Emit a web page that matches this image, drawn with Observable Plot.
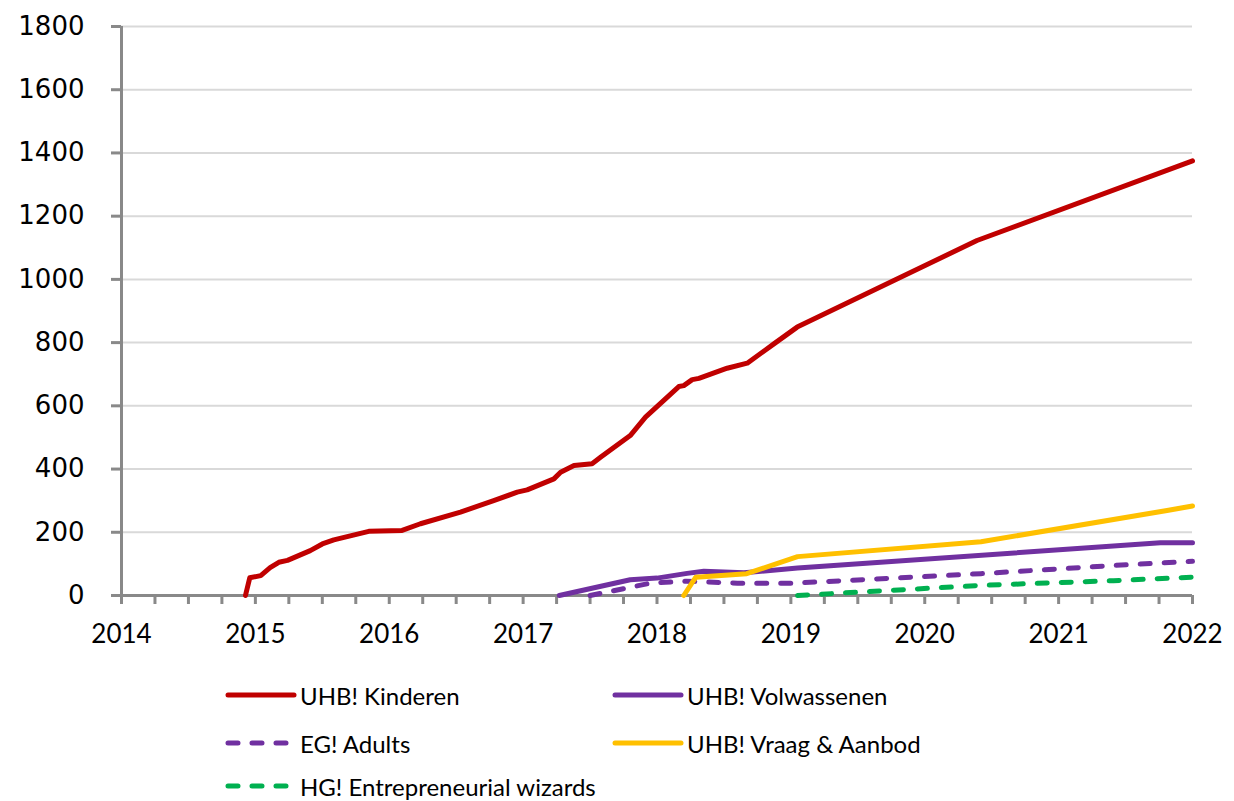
<!DOCTYPE html>
<html>
<head>
<meta charset="utf-8">
<script src="https://cdn.jsdelivr.net/npm/d3@7"></script>
<script src="https://cdn.jsdelivr.net/npm/@observablehq/plot@0.6"></script>
<style>
  html, body { margin: 0; padding: 0; background: #fff; width: 1234px; height: 801px; overflow: hidden; }
  #chart svg { display: block; }
  #legend { position: relative; width: 1234px; height: 141px; font-family: Lato, "Open Sans", sans-serif; font-size: 24px; color: #000; }
  .item { position: absolute; display: flex; align-items: center; height: 30px; white-space: nowrap; }
  .item svg { margin-right: 3px; }
</style>
</head>
<body>
<div id="chart"></div>
<div id="legend"></div>
<script>
// ---- data (decimal years, values) ----
const seriesNames = ["UHB! Kinderen", "UHB! Volwassenen", "EG! Adults", "UHB! Vraag & Aanbod", "HG! Entrepreneurial wizards"];
const seriesColors = ["#C00000", "#7030A0", "#7030A0", "#FFC000", "#00B050"];
const seriesDashed = [false, false, true, false, true];

const kinderenYears = [2014.926, 2014.958, 2015.04, 2015.11, 2015.175, 2015.24, 2015.41, 2015.50, 2015.586, 2015.847, 2016.096, 2016.233, 2016.532, 2016.78, 2016.956, 2017.03, 2017.23, 2017.28, 2017.38, 2017.515, 2017.578, 2017.80, 2017.914, 2018.163, 2018.2, 2018.263, 2018.313, 2018.524, 2018.674, 2018.873, 2019.047, 2020.39, 2022];
const kinderenValues = [0, 56, 63, 88, 105, 111, 142, 163, 176, 203, 206, 227, 264, 300, 327, 334, 369, 390, 411, 417, 437, 506, 564, 661, 664, 683, 687, 719, 735, 796, 849, 1123, 1375];

const volwassenenYears = [2017.27, 2017.8, 2018.0, 2018.225, 2018.35, 2018.65, 2019.05, 2021.76, 2022];
const volwassenenValues = [0, 50, 55, 70, 77, 72, 87, 167, 167];

const adultsYears = [2017.5, 2017.95, 2018.22, 2018.6, 2019.02, 2020.42, 2021.41, 2022];
const adultsValues = [0, 39, 45, 39, 39, 69, 95, 108];

const vraagYears = [2018.2, 2018.29, 2018.67, 2019.05, 2020.42, 2021.81, 2022];
const vraagValues = [0, 58, 69, 123, 170, 269, 283];

const wizardsYears = [2019.05, 2020.42, 2021.41, 2022];
const wizardsValues = [0, 32, 47, 58];

const yearTicks = [2014, 2015, 2016, 2017, 2018, 2019, 2020, 2021, 2022];
const quarterTicks = d3.range(0, 33).map(i => 2014 + i / 4);
const yTicks = [0, 200, 400, 600, 800, 1000, 1200, 1400, 1600, 1800];

// ---- build table ----
const allYears = [kinderenYears, volwassenenYears, adultsYears, vraagYears, wizardsYears];
const allValues = [kinderenValues, volwassenenValues, adultsValues, vraagValues, wizardsValues];
const data = [];
seriesNames.forEach((name, i) => {
  allYears[i].forEach((yr, j) => data.push({series: name, year: yr, value: allValues[i][j]}));
});

const gray = "#898989";
const marks = [
  Plot.ruleY(yTicks.filter(d => d > 0), {stroke: "#d9d9d9", strokeWidth: 2}),
  Plot.axisY({ticks: yTicks, tickSize: 10, tickPadding: 27, stroke: gray, strokeWidth: 3,
    fontFamily: "DejaVu Sans", fontSize: 26, letterSpacing: 1, tickFormat: d => String(d), label: null}),
  Plot.axisX({ticks: quarterTicks, tickSize: 9, stroke: gray, strokeWidth: 3, tickFormat: () => "", label: null}),
  Plot.axisX({ticks: yearTicks, tickSize: 0, tickPadding: 29, fontFamily: "Lato", fontSize: 26,
    tickFormat: d => String(d), label: null}),
  Plot.ruleY([0], {stroke: gray, strokeWidth: 3}),
  Plot.ruleX([2014], {stroke: gray, strokeWidth: 3})
];
seriesNames.forEach((name, i) => {
  marks.push(Plot.line(data.filter(d => d.series === name), {
    x: "year", y: "value", stroke: seriesColors[i], strokeWidth: 5,
    strokeDasharray: seriesDashed[i] ? "10,14" : null,
    strokeLinecap: "round", strokeLinejoin: "round"
  }));
});

const chart = Plot.plot({
  width: 1234,
  height: 660,
  marginLeft: 121,
  marginRight: 42,
  marginTop: 26,
  marginBottom: 65,
  x: {domain: [2014, 2022]},
  y: {domain: [0, 1800]},
  style: {background: "#fff", color: "#000"},
  marks
});
document.getElementById("chart").appendChild(chart);

// ---- legend ----
const legendPos = [
  {left: 225, top: 20}, {left: 612, top: 20},
  {left: 225, top: 68}, {left: 612, top: 68},
  {left: 225, top: 111}
];
const legend = document.getElementById("legend");
seriesNames.forEach((name, i) => {
  const div = document.createElement("div");
  div.className = "item";
  div.style.left = legendPos[i].left + "px";
  div.style.top = legendPos[i].top + "px";
  const dash = seriesDashed[i] ? 'stroke-dasharray="10,14"' : "";
  div.innerHTML = `<svg width="72" height="10"><line x1="3" y1="5" x2="69" y2="5" stroke="${seriesColors[i]}" stroke-width="5" stroke-linecap="round" ${dash}/></svg><span>${name.replace(/&/g, "&amp;")}</span>`;
  legend.appendChild(div);
});
</script>
</body>
</html>
